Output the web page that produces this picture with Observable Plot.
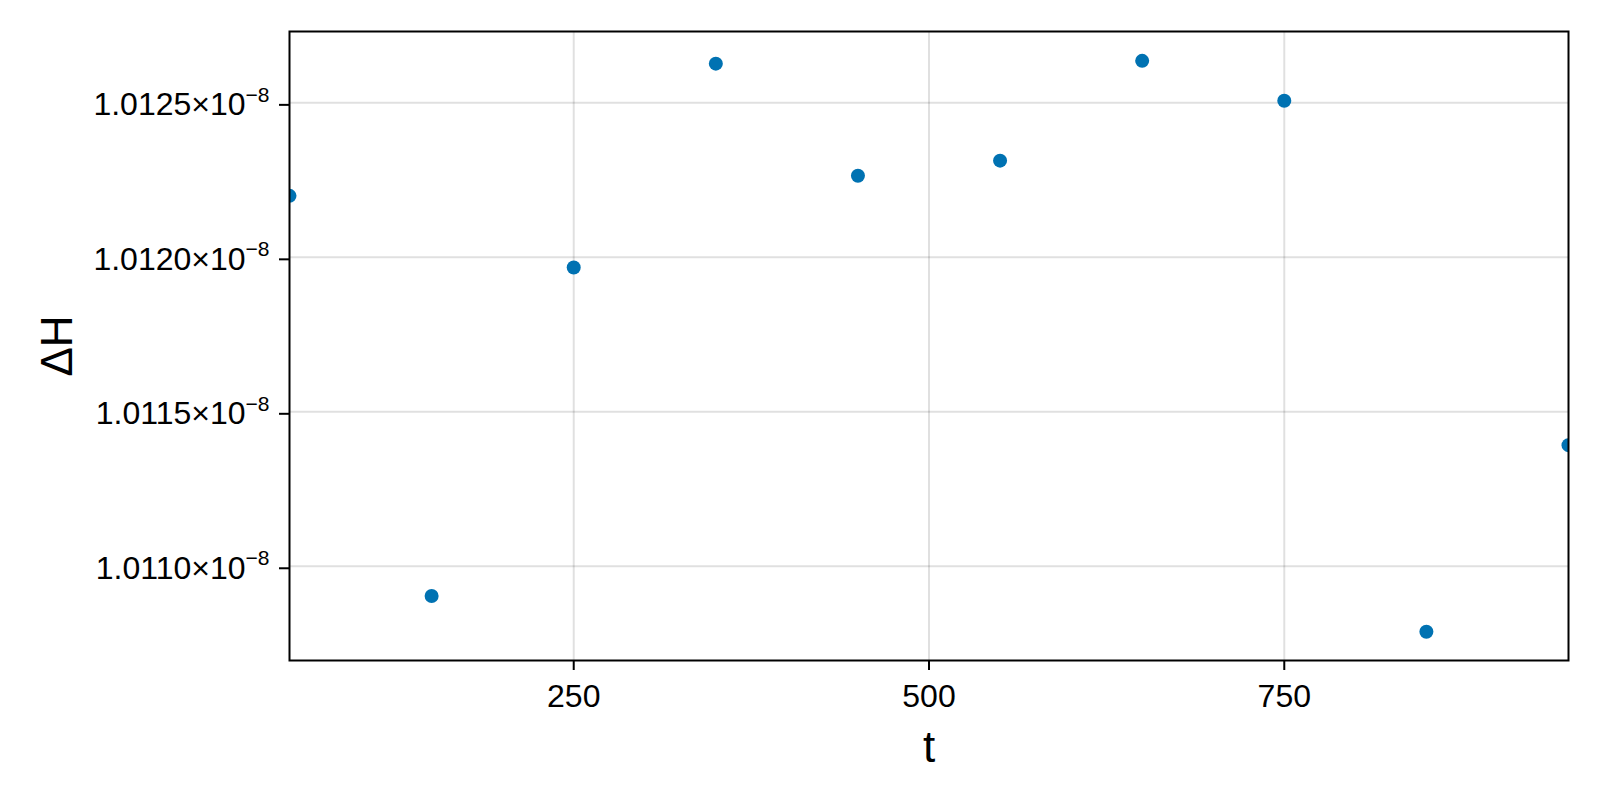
<!DOCTYPE html>
<html>
<head>
<meta charset="utf-8">
<script src="https://cdn.jsdelivr.net/npm/d3@7"></script>
<script src="https://cdn.jsdelivr.net/npm/@observablehq/plot@0.6"></script>
<style>
  html, body { margin: 0; padding: 0; background: #ffffff; }
  #chart svg { display: block; }
</style>
</head>
<body>
<div id="chart"></div>
<script>
// Data (ΔH values in absolute units)
const tValues = [50, 150, 250, 350, 450, 550, 650, 750, 850, 950];
const dHValues = [1.012199e-8, 1.010904e-8, 1.011967e-8, 1.012627e-8, 1.012264e-8,
                  1.012313e-8, 1.012636e-8, 1.012507e-8, 1.010788e-8, 1.011392e-8];
const xTicks = [250, 500, 750];
const yTicks = [1.0110e-8, 1.0115e-8, 1.0120e-8, 1.0125e-8];
const xDomain = [50, 950];
const yDomain = [1.010695e-8, 1.012731e-8];
const xLabel = "t";
const yLabel = "ΔH";

const data = tValues.map((t, i) => ({t, dH: dHValues[i]}));
const gridStyle = {stroke: "#000", strokeOpacity: 0.12, strokeWidth: 2};

const svg = Plot.plot({
  width: 1600,
  height: 800,
  marginLeft: 289,
  marginRight: 32,
  marginTop: 31,
  marginBottom: 140,
  style: {fontFamily: "'Liberation Sans', Arial, Helvetica, sans-serif", background: "#ffffff", color: "#000"},
  x: {domain: xDomain, label: null},
  y: {domain: yDomain, label: null},
  marks: [
    Plot.gridX(xTicks, gridStyle),
    Plot.gridY(yTicks, gridStyle),
    Plot.dot(data, {x: "t", y: "dH", r: 7, fill: "#0072B2", stroke: null, clip: true}),
    Plot.frame({stroke: "#000", strokeWidth: 2}),
    Plot.axisX(xTicks, {tickSize: 10, tickPadding: 14, strokeWidth: 2, fontSize: 32, label: null,
      tickFormat: d => String(d)}),
    Plot.axisY(yTicks, {tickSize: 10, tickPadding: 10, strokeWidth: 2, fontSize: 32, label: null, dy: 2,
      tickFormat: d => (d * 1e8).toFixed(4) + "×10"}),
    Plot.text([xLabel], {frameAnchor: "bottom", textAnchor: "middle", lineAnchor: "middle", dy: 87.6, fontSize: 44}),
    Plot.text([yLabel], {frameAnchor: "left", textAnchor: "middle", lineAnchor: "middle", rotate: -90, dx: -231.7, fontSize: 44})
  ]
});

// Render the exponent as a real superscript
svg.querySelectorAll('g[aria-label="y-axis tick label"] text').forEach(t => {
  const ts = document.createElementNS("http://www.w3.org/2000/svg", "tspan");
  ts.setAttribute("dy", "-13.3");
  ts.setAttribute("font-size", "21");
  ts.textContent = "−8";
  t.appendChild(ts);
});

document.getElementById("chart").appendChild(svg);
</script>
</body>
</html>
